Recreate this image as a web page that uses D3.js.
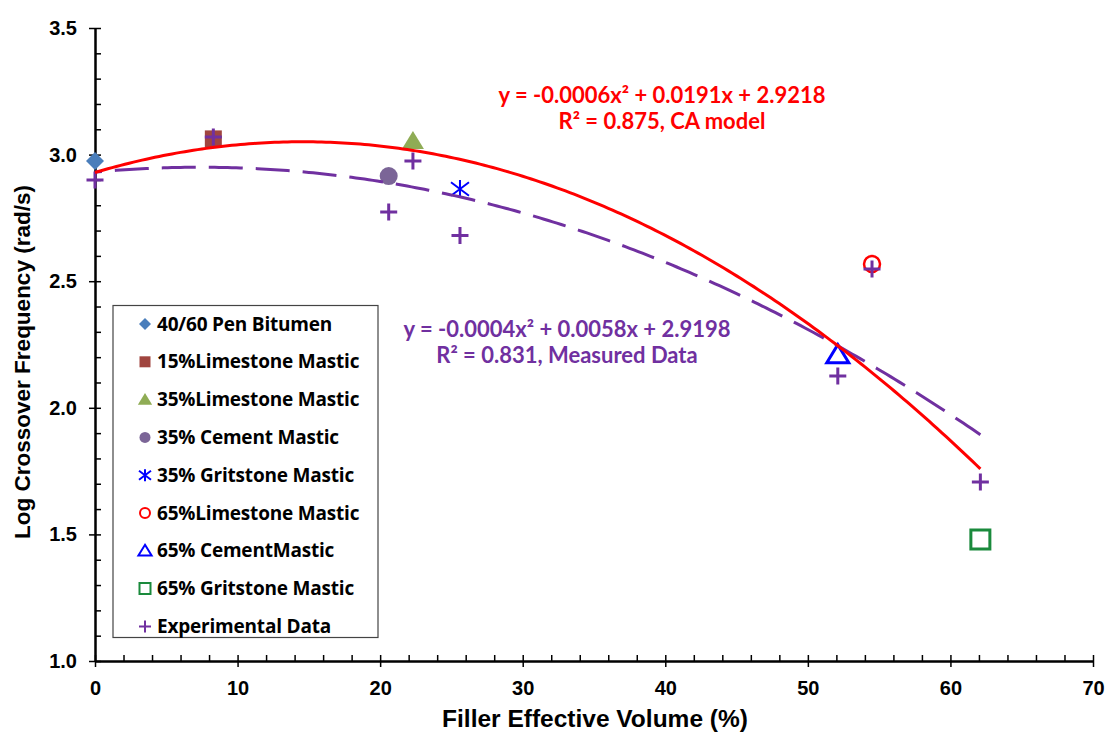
<!DOCTYPE html>
<html>
<head>
<meta charset="utf-8">
<script src="https://cdn.jsdelivr.net/npm/d3@7"></script>
<style>
  body { margin: 0; background: #fff; }
  svg { display: block; }
  .tick text { font-family: 'Liberation Sans Narrow', 'Liberation Sans', Arial, sans-serif; font-weight: bold; }
</style>
</head>
<body>
<div id="chart"></div>
<script>
// colored markers (CA model), one point per material
let seriesNames = ['40/60 Pen Bitumen', '15%Limestone Mastic', '35%Limestone Mastic', '35% Cement Mastic',
  '35% Gritstone Mastic', '65%Limestone Mastic', '65% CementMastic', '65% Gritstone Mastic']
let seriesX = [0, 8.3, 22.3, 20.6, 25.6, 54.5, 52.1, 62.1]
let seriesY = [2.975, 3.062, 3.054, 2.915, 2.864, 2.568, 2.21, 1.48]

// experimental data (crosses)
let expX = [0, 8.3, 20.6, 22.3, 25.6, 52.1, 54.5, 62.1]
let expY = [2.9, 3.07, 2.773, 2.975, 2.68, 2.126, 2.548, 1.707]

let xTicks = [0, 10, 20, 30, 40, 50, 60, 70]
let yTicks = [1.0, 1.5, 2.0, 2.5, 3.0, 3.5]

let width = 1109
let height = 733

let svg = d3.select('#chart').append('svg')
  .attr('width', width)
  .attr('height', height)

let x = d3.scaleLinear().domain([0, 70]).range([95, 1093])
let y = d3.scaleLinear().domain([1.0, 3.5]).range([661, 28])

// axes
let xAxis = svg.append('g')
  .attr('transform', `translate(0,${y(1.0)})`)
  .call(d3.axisBottom(x).tickValues(xTicks).tickFormat(d3.format('d')).tickSizeInner(6).tickSizeOuter(0).tickPadding(10))
svg.append('g')
  .attr('transform', `translate(0,${y(1.0)})`)
  .call(d3.axisTop(x).tickValues(d3.range(0, 71, 2)).tickFormat('').tickSizeInner(6).tickSizeOuter(0))

let yAxis = svg.append('g')
  .attr('transform', `translate(${x(0)},0)`)
  .call(d3.axisLeft(y).tickValues(yTicks).tickFormat(d3.format('.1f')).tickSizeInner(6).tickSizeOuter(0).tickPadding(12))
svg.append('g')
  .attr('transform', `translate(${x(0)},0)`)
  .call(d3.axisRight(y).tickValues(d3.range(10, 36, 1).map(d => d / 10)).tickFormat('').tickSizeInner(6).tickSizeOuter(0))

svg.selectAll('.domain').attr('stroke', '#000').attr('stroke-width', 2)
svg.selectAll('.tick line').attr('stroke', '#000').attr('stroke-width', 1.5)
svg.selectAll('.tick text').attr('fill', '#000').style('font-size', '20px')
xAxis.selectAll('.tick text').attr('dy', '0.9em')

svg.append('text')
  .attr('x', 595)
  .attr('y', 727)
  .attr('text-anchor', 'middle')
  .style('font-family', "'Liberation Sans Narrow', 'Liberation Sans', Arial, sans-serif")
  .style('font-weight', 'bold')
  .style('font-size', '24.5px')
  .text('Filler Effective Volume (%)')

svg.append('text')
  .attr('transform', 'translate(30,362) rotate(-90)')
  .attr('text-anchor', 'middle')
  .style('font-family', "'Liberation Sans Narrow', 'Liberation Sans', Arial, sans-serif")
  .style('font-weight', 'bold')
  .style('font-size', '22.5px')
  .text('Log Crossover Frequency (rad/s)')

// marker shapes
function diamond(s) { return `M0,${-s}L${s},0L0,${s}L${-s},0Z` }
function square(s) { return `M${-s},${-s}H${s}V${s}H${-s}Z` }
function triangle(s) { return `M0,${-s}L${s * 1.1},${s * 0.8}L${-s * 1.1},${s * 0.8}Z` }
function circle(s) { return `M${s},0A${s},${s} 0 1,1 ${-s},0A${s},${s} 0 1,1 ${s},0Z` }
function asterisk(s) { return `M0,${-s}V${s}M${-s},${-s * 0.75}L${s},${s * 0.75}M${-s},${s * 0.75}L${s},${-s * 0.75}` }
function plus(s) { return `M${-s},0H${s}M0,${-s}V${s}` }

let seriesStyle = [
  { shape: diamond, size: 9, fill: '#4a7ebb', stroke: 'none', sw: 0, ls: 6 },
  { shape: square, size: 8.5, fill: '#a0453f', stroke: 'none', sw: 0, ls: 5.5 },
  { shape: triangle, size: 10, fill: '#8fac55', stroke: 'none', sw: 0, ls: 6.5 },
  { shape: circle, size: 9, fill: '#7b6597', stroke: 'none', sw: 0, ls: 5.5 },
  { shape: asterisk, size: 9, fill: 'none', stroke: '#0000ff', sw: 2, ls: 6 },
  { shape: circle, size: 8, fill: 'none', stroke: '#ff0000', sw: 2.5, ls: 5 },
  { shape: triangle, size: 10, fill: 'none', stroke: '#0000ff', sw: 3, ls: 6 },
  { shape: square, size: 9.5, fill: 'none', stroke: '#1a8a3c', sw: 3, ls: 5.5 }
]
let expColor = '#7030a0'

// least squares quadratic fit, like the spreadsheet trendline
function quadFit(xs, ys) {
  let s = [0, 0, 0, 0, 0], t = [0, 0, 0]
  xs.forEach((xv, i) => {
    for (let k = 0; k < 5; k++) s[k] += Math.pow(xv, k)
    for (let k = 0; k < 3; k++) t[k] += Math.pow(xv, k) * ys[i]
  })
  let m = [[s[0], s[1], s[2], t[0]], [s[1], s[2], s[3], t[1]], [s[2], s[3], s[4], t[2]]]
  for (let i = 0; i < 3; i++) {
    for (let j = i + 1; j < 3; j++) {
      let f = m[j][i] / m[i][i]
      for (let k = i; k < 4; k++) m[j][k] -= f * m[i][k]
    }
  }
  let c = [0, 0, 0]
  for (let i = 2; i >= 0; i--) {
    let v = m[i][3]
    for (let k = i + 1; k < 3; k++) v -= m[i][k] * c[k]
    c[i] = v / m[i][i]
  }
  return xv => c[0] + c[1] * xv + c[2] * xv * xv
}

let caFit = quadFit(seriesX, seriesY)
let expFit = quadFit(expX, expY)

// markers
svg.selectAll('.series')
  .data(seriesX)
  .enter()
  .append('path')
  .attr('class', 'series')
  .attr('transform', (d, i) => `translate(${x(d)},${y(seriesY[i])})`)
  .attr('d', (d, i) => seriesStyle[i].shape(seriesStyle[i].size))
  .attr('fill', (d, i) => seriesStyle[i].fill)
  .attr('stroke', (d, i) => seriesStyle[i].stroke)
  .attr('stroke-width', (d, i) => seriesStyle[i].sw)

svg.selectAll('.exp')
  .data(expX)
  .enter()
  .append('path')
  .attr('class', 'exp')
  .attr('transform', (d, i) => `translate(${x(d)},${y(expY[i])})`)
  .attr('d', plus(8.5))
  .attr('stroke', expColor)
  .attr('stroke-width', 3)

// trendlines
let xs = d3.range(0, 62.1001, 0.3)
let line = fn => d3.line().x(d => x(d)).y(d => y(fn(d)))

let dashed = svg.append('path')
  .datum(xs)
  .attr('d', line(expFit))
  .attr('fill', 'none')
  .attr('stroke', expColor)
  .attr('stroke-width', 3)
  .attr('stroke-dasharray', '34,13')
// shift the pattern so the line ends on a dash
let len = dashed.node().getTotalLength()
dashed.attr('stroke-dashoffset', 30 - (len % 47))

svg.append('path')
  .datum(xs)
  .attr('d', line(caFit))
  .attr('fill', 'none')
  .attr('stroke', '#ff0000')
  .attr('stroke-width', 3)

// equations
let eqs = [
  { lines: ['y = -0.0006x² + 0.0191x + 2.9218', 'R² = 0.875, CA model'], cx: 662, cy: 95, color: '#ff0000' },
  { lines: ['y = -0.0004x² + 0.0058x + 2.9198', 'R² = 0.831, Measured Data'], cx: 567, cy: 329, color: expColor }
]
eqs.forEach(e => {
  e.lines.forEach((t, i) => {
    svg.append('text')
      .attr('x', e.cx)
      .attr('y', e.cy + i * 26.5)
      .attr('dy', '0.35em')
      .attr('text-anchor', 'middle')
      .attr('fill', e.color)
      .style('font-family', "Lato, 'Open Sans', sans-serif")
      .style('font-weight', 'bold')
      .style('font-size', '22px')
      .text(t)
  })
})

// legend
let legend = svg.append('g')
legend.append('rect')
  .attr('x', 113)
  .attr('y', 305.5)
  .attr('width', 265)
  .attr('height', 332)
  .attr('fill', '#fff')
  .attr('stroke', '#444')
  .attr('stroke-width', 1.2)

let legendItems = seriesNames.map((n, i) => ({ name: n, style: seriesStyle[i] }))
legendItems.push({ name: 'Experimental Data', style: { shape: plus, size: 6, fill: 'none', stroke: expColor, sw: 3, ls: 6 } })

let li = legend.selectAll('.item')
  .data(legendItems)
  .enter()
  .append('g')
  .attr('class', 'item')
  .attr('transform', (d, i) => `translate(145,${324 + i * 37.8})`)

li.append('path')
  .attr('d', d => d.style.shape(d.style.ls))
  .attr('fill', d => d.style.fill)
  .attr('stroke', d => d.style.stroke)
  .attr('stroke-width', d => d.style.sw ? Math.min(d.style.sw, 2) : 0)

li.append('text')
  .attr('x', 12)
  .attr('dy', '0.35em')
  .style('font-family', "'Open Sans', Lato, sans-serif")
  .style('font-weight', 'bold')
  .style('font-size', '19px')
  .style('letter-spacing', '-0.2px')
  .attr('fill', '#000')
  .text(d => d.name)
</script>
</body>
</html>
